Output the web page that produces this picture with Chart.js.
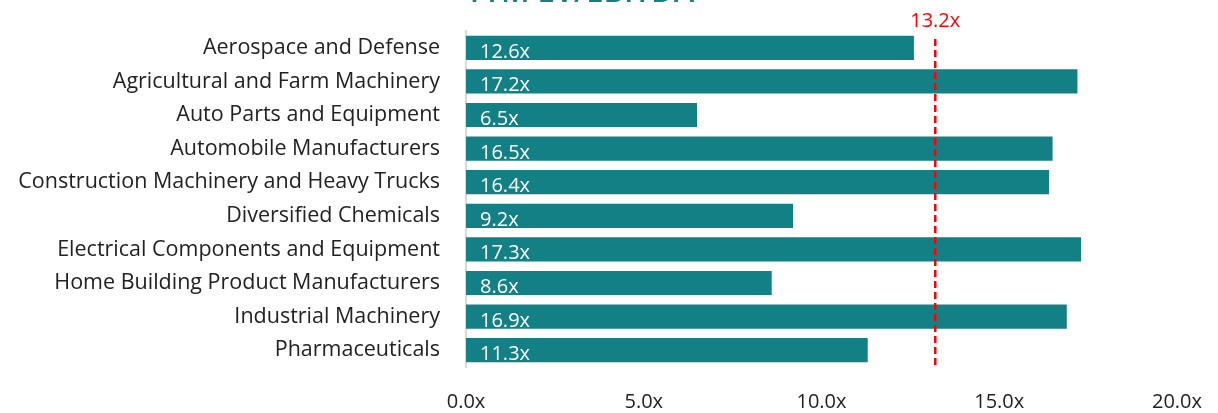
<!DOCTYPE html>
<html>
<head>
<meta charset="utf-8">
<script src="https://cdn.jsdelivr.net/npm/chart.js@4"></script>
<style>
  html, body { margin: 0; padding: 0; background: #fff; }
  #wrap { width: 1218px; height: 413px; }
</style>
</head>
<body>
<div id="wrap"><canvas id="myChart" width="1218" height="413"></canvas></div>
<script>
// data
const categories = [
    'Aerospace and Defense',
    'Agricultural and Farm Machinery',
    'Auto Parts and Equipment',
    'Automobile Manufacturers',
    'Construction Machinery and Heavy Trucks',
    'Diversified Chemicals',
    'Electrical Components and Equipment',
    'Home Building Product Manufacturers',
    'Industrial Machinery',
    'Pharmaceuticals'
];
const multiples = [12.6, 17.2, 6.5, 16.5, 16.4, 9.2, 17.3, 8.6, 16.9, 11.3];
const medianValue = 13.2;
const tickValues = [0, 5, 10, 15, 20];
const titleText = 'TTM EV/EBITDA';

const FONT = '"Open Sans", "Noto Sans", sans-serif';
const TEAL = '#138086';

// 막대 안 라벨, 기준선, 잘린 제목
const extras = {
    id: 'extras',
    afterDatasetsDraw(chart) {
        const ctx = chart.ctx;
        const xs = chart.scales.x;
        const area = chart.chartArea;
        const meta = chart.getDatasetMeta(0);

        ctx.save();
        ctx.font = '20px ' + FONT;
        ctx.fillStyle = '#ffffff';
        ctx.textAlign = 'left';
        ctx.textBaseline = 'alphabetic';
        meta.data.forEach((bar, i) => {
            ctx.fillText(multiples[i].toFixed(1) + 'x', bar.base + 14, bar.y + bar.height / 2 - 2);
        });

        // median line
        const mx = xs.getPixelForValue(medianValue);
        ctx.strokeStyle = '#ff0000';
        ctx.lineWidth = 2.5;
        ctx.setLineDash([7, 4]);
        ctx.beginPath();
        ctx.moveTo(mx, area.top + 8);
        ctx.lineTo(mx, area.bottom - 1);
        ctx.stroke();
        ctx.setLineDash([]);
        ctx.fillStyle = '#ff0000';
        ctx.textAlign = 'center';
        ctx.font = '20px ' + FONT;
        ctx.fillText(medianValue.toFixed(1) + 'x', mx, 27);

        // title (잘려서 아래만 보임)
        ctx.fillStyle = TEAL;
        ctx.font = '600 31px ' + FONT;
        ctx.fillText(titleText, 580, 1.5);
        ctx.restore();
    }
};

new Chart(document.querySelector('#myChart'), {
    type: 'bar',
    data: {
        labels: categories,
        datasets: [{
            data: multiples,
            backgroundColor: TEAL,
            borderWidth: 0,
            barPercentage: 0.72,
            categoryPercentage: 1.0
        }]
    },
    options: {
        indexAxis: 'y',
        responsive: false,
        animation: false,
        maintainAspectRatio: false,
        layout: { padding: { top: 31, right: 41, left: 0, bottom: 0 } },
        plugins: {
            legend: { display: false },
            tooltip: { enabled: false }
        },
        scales: {
            x: {
                min: 0,
                max: 20,
                afterBuildTicks: (s) => { s.ticks = tickValues.map(v => ({ value: v })); },
                afterFit: (s) => { s.height = 46; s.paddingLeft = 0; s.paddingRight = 0; },
                grid: { display: false, drawTicks: false },
                border: { display: false },
                ticks: {
                    color: '#222',
                    font: { family: FONT, size: 20 },
                    padding: 23,
                    maxRotation: 0,
                    callback: (v) => Number(v).toFixed(1) + 'x'
                }
            },
            y: {
                afterFit: (s) => { s.width = 466; s.paddingTop = 0; s.paddingBottom = 0; },
                grid: { display: false, drawTicks: false },
                border: { display: true, color: '#d9d9d9', width: 2 },
                ticks: {
                    color: '#222',
                    font: { family: FONT, size: 21.5 },
                    padding: 26
                }
            }
        }
    },
    plugins: [extras]
});
</script>
</body>
</html>
